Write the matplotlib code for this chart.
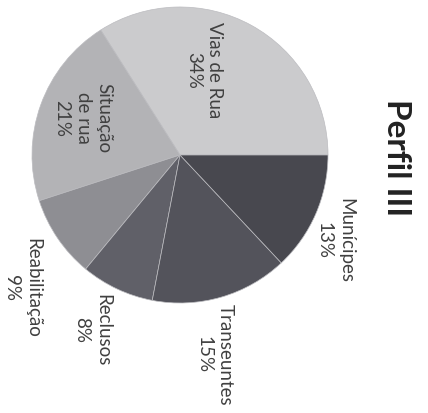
import matplotlib.pyplot as plt

# Perfil III - pie chart (scanned page, rotated 90 degrees clockwise)
labels = ["Vias de Rua", "Situação\nde rua", "Reabilitação", "Reclusos", "Transeuntes", "Munícipes"]
values = [34, 21, 9, 8, 15, 13]
colors = ["#cbcbcd", "#b3b3b6", "#8e8e93", "#606068", "#53535b", "#48484f"]

W, H = 428, 413
fig = plt.figure(figsize=(W / 100, H / 100), dpi=100)
ax = fig.add_axes([0, 0, 1, 1])

cx, cy, r = 180, H - 155, 148
ax.pie(values, colors=colors, startangle=0, counterclock=True,
       center=(cx, cy), radius=r, frame=True,
       wedgeprops=dict(linewidth=0.5, edgecolor="#bcbcc0"))
ax.set_xlim(0, W)
ax.set_ylim(0, H)
ax.set_aspect("equal")
ax.axis("off")

# label positions in image pixels (x, y from top)
label_pos = [(204, 70), (83, 118), (22, 288), (92, 330), (215, 355), (335, 240)]
for lab, v, (x, y) in zip(labels, values, label_pos):
    ax.text(x, H - y, f"{lab}\n{v}%", rotation=-90, ha="center", va="center",
            fontsize=13.5, family="Lato", color="#404040", linespacing=1.3,
            multialignment="center")

ax.text(397, H - 158, "Perfil III", rotation=-90, ha="center", va="center",
        fontsize=24, family="Lato", fontweight="bold", color="#222222")

fig.savefig("out.png", dpi=100)
